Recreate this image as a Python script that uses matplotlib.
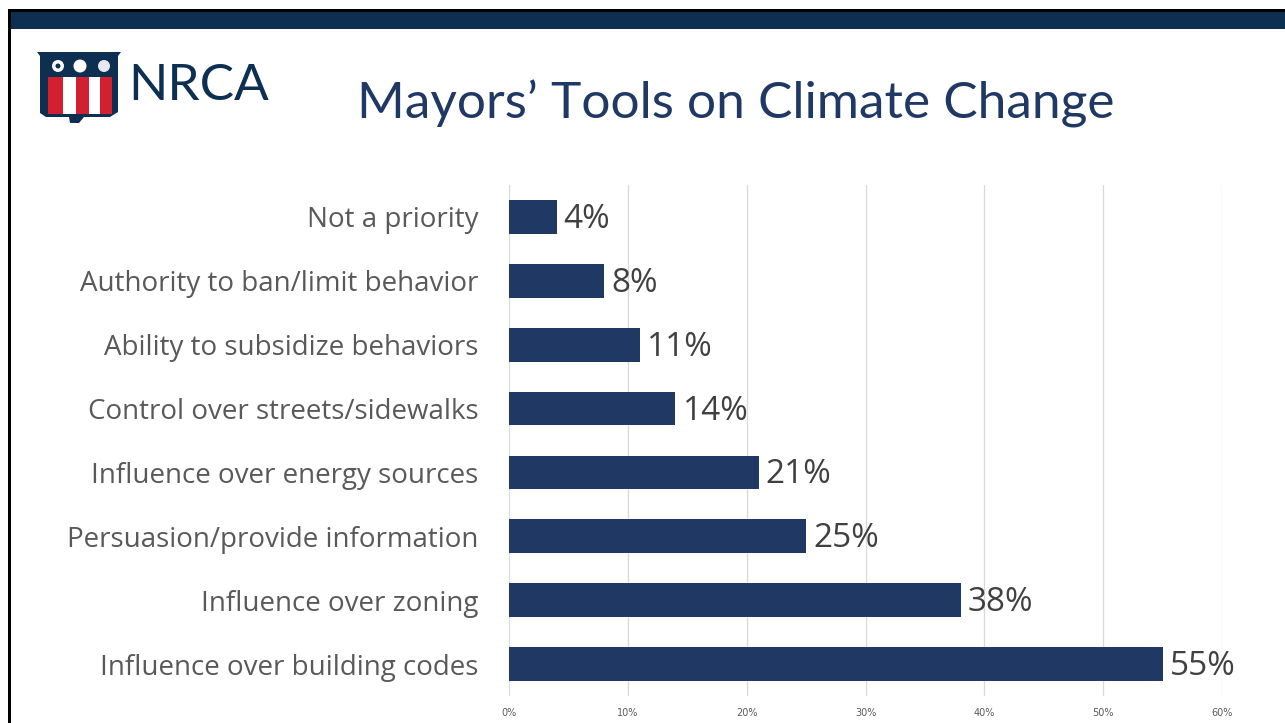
import matplotlib
matplotlib.use("Agg")
import matplotlib.pyplot as plt
from matplotlib.patches import Rectangle, Polygon, Circle
import matplotlib.ticker as mticker

categories = ["Not a priority", "Authority to ban/limit behavior", "Ability to subsidize behaviors",
              "Control over streets/sidewalks", "Influence over energy sources",
              "Persuasion/provide information", "Influence over zoning", "Influence over building codes"]
values = [4, 8, 11, 14, 21, 25, 38, 55]
xticks = [0, 10, 20, 30, 40, 50, 60]
title = "Mayors\u2019 Tools on Climate Change"

W, H = 1285, 723
fig = plt.figure(figsize=(W/100, H/100), dpi=100)
fig.patch.set_facecolor("white")

# overlay in pixel coords
ov = fig.add_axes([0, 0, 1, 1])
ov.set_xlim(0, W); ov.set_ylim(H, 0); ov.axis("off")
navy = "#0c2f52"
ov.add_patch(Rectangle((8, 9), W, 3.5, color="black", lw=0))
ov.add_patch(Rectangle((10, 12), W, 17, color=navy, lw=0))
ov.add_patch(Rectangle((8, 9), 3, H, color="black", lw=0))

# shield logo
ov.add_patch(Polygon([(37, 52), (121, 52), (118, 56), (118, 112), (110, 117), (84, 117), (79, 123), (70, 123), (69, 117), (46, 117), (40, 113), (40, 56)], closed=True, color=navy, lw=0))
ov.add_patch(Rectangle((43, 55), 72, 22, color=navy, lw=0))
stripes = [(48, 63, "#d22030"), (63, 76, "white"), (76, 89, "#d22030"), (89, 100, "white"), (100, 112, "#d22030")]
for x0, x1, c in stripes:
    ov.add_patch(Rectangle((x0, 77), x1 - x0, 37, color=c, lw=0))
ov.add_patch(Circle((58, 66), 6, color="white", lw=0))
ov.add_patch(Circle((58, 66), 2.5, color=navy, lw=0))
ov.add_patch(Circle((80, 66), 6.5, color="white", lw=0))
ov.add_patch(Circle((104, 66), 6, color="#e8e8f0", lw=0))
ov.text(128, 86, "NRCA", fontsize=37, color=navy, family="Lato", va="center", ha="left")

ov.text(736, 104, title, fontsize=37, color="#1f3864", family="Lato", va="center", ha="center")

ax = fig.add_axes([509/W, 27/H, 713/W, 511/H])
y = list(range(len(categories)))
ax.barh(y, values, height=0.53, color="#203864", zorder=3)
ax.set_ylim(len(categories) - 0.5, -0.5)
ax.set_xlim(0, 60)
ax.set_xticks(xticks)
ax.xaxis.set_major_formatter(mticker.FuncFormatter(lambda v, p: f"{v:.0f}%"))
ax.set_yticks(y)
ax.set_yticklabels(categories, fontsize=20, color="#595959", family="Open Sans")
ax.tick_params(axis="y", length=0, pad=22)
ax.tick_params(axis="x", length=0, labelsize=7, labelcolor="#595959", pad=9)
for s in ax.spines.values():
    s.set_visible(False)
ax.grid(axis="x", color="#d9d9d9", lw=0.9, zorder=0)
ax.set_facecolor("none")
for yi, v in zip(y, values):
    ax.text(v + 0.6, yi + 0.04, f"{v}%", va="center", ha="left", fontsize=24, color="#404040", family="Open Sans")

fig.savefig("out.png", dpi=100, facecolor="white")
